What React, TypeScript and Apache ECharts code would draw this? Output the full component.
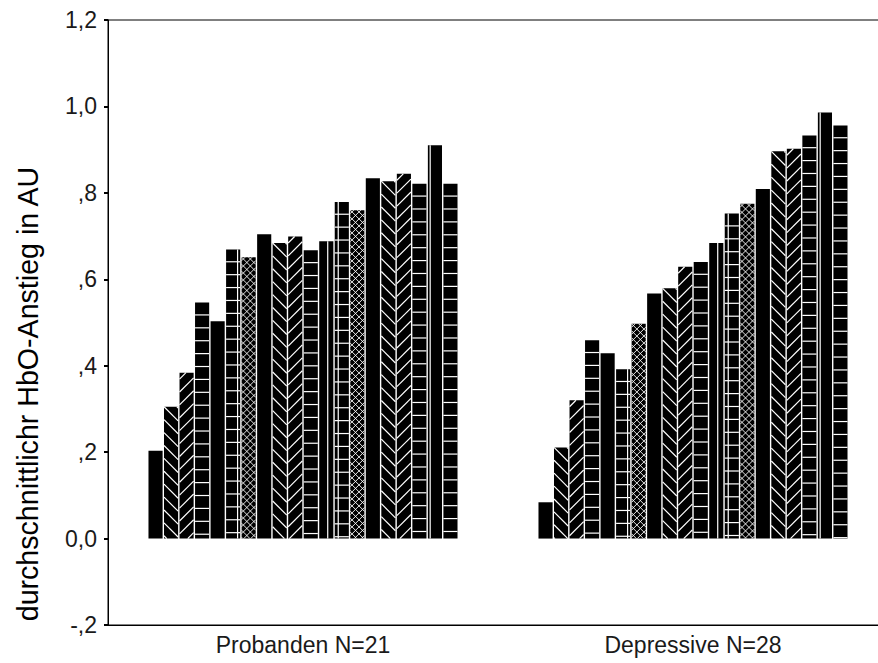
import React, { useEffect, useRef } from "react";
import * as echarts from "echarts";

// ---- data ----
const categories = ["Probanden N=21", "Depressive N=28"];
const probandenValues = [
  0.203, 0.305, 0.384, 0.546, 0.503, 0.669, 0.651, 0.704, 0.684, 0.699,
  0.667, 0.688, 0.779, 0.760, 0.834, 0.827, 0.844, 0.821, 0.910, 0.821,
];
const depressiveValues = [
  0.084, 0.211, 0.320, 0.459, 0.429, 0.392, 0.497, 0.567, 0.579, 0.629,
  0.640, 0.684, 0.752, 0.775, 0.809, 0.896, 0.902, 0.933, 0.986, 0.956,
];
const yTickLabels = ["-,2", "0,0", ",2", ",4", ",6", ",8", "1,0", "1,2"];
const yAxisTitle = "durchschnittlichr HbO-Anstieg in AU";

// ---- styles (fill pattern of each bar series) ----
const seriesPatterns = [
  "solid", "diagDown", "diagUp", "hlines", "solid", "grid", "cross",
  "solid", "diagDown", "diagUp", "hlines", "vline", "grid", "cross",
  "solid", "diagDown", "diagUp", "hlines", "vline", "hlines",
];
const vlineOffsets: Record<number, number> = { 5: 11.5, 11: 8.5, 12: 3.5, 18: 2.3 };

const FONT = "'Liberation Sans', Arial, sans-serif";
const TILE = 12.9;
const BAR_AREA = 0.796;
const BAR_GAP = 1.4;
const WHITE_LINE = { stroke: "#fff", lineWidth: 1.2 };
const WHITE_THIN = { stroke: "#fff", lineWidth: 0.9 };

function seg(x1: number, y1: number, x2: number, y2: number, style: any = WHITE_LINE) {
  return { type: "line", shape: { x1, y1, x2, y2 }, style, silent: true };
}

function hLines(x0: number, y0: number, w: number, h: number, out: any[]) {
  for (let y = y0 + TILE - 0.6; y < y0 + h - 0.5; y += TILE) out.push(seg(x0, y, x0 + w, y));
}
function diagDown(x0: number, y0: number, w: number, h: number, step: number, out: any[], style: any = WHITE_LINE) {
  // y - y0 = (x - x0) + c
  for (let c = -Math.ceil(w / step) * step; c < h; c += step) {
    const lo = Math.max(0, -c);
    const hi = Math.min(w, h - c);
    if (hi > lo) out.push(seg(x0 + lo, y0 + lo + c, x0 + hi, y0 + hi + c, style));
  }
}
function diagUp(x0: number, y0: number, w: number, h: number, step: number, out: any[], style: any = WHITE_LINE) {
  // y - y0 = -(x - x0) + c
  for (let c = step * 0.5; c < h + w; c += step) {
    const lo = Math.max(0, c - h);
    const hi = Math.min(w, c);
    if (hi > lo) out.push(seg(x0 + lo, y0 + c - lo, x0 + hi, y0 + c - hi, style));
  }
}

export default function App() {
  const ref = useRef<HTMLDivElement>(null);
  useEffect(() => {
    if (!ref.current) return;
    const chart = echarts.init(ref.current, null, { renderer: "svg" });
    const nSeries = seriesPatterns.length;
    const data: number[][] = [];
    probandenValues.forEach((v, i) => data.push([0, i, v]));
    depressiveValues.forEach((v, i) => data.push([1, i, v]));

    const renderItem = (params: any, api: any) => {
      const cat = api.value(0);
      const s = api.value(1);
      const v = api.value(2);
      const topPt = api.coord([cat, v]);
      const basePt = api.coord([cat, 0]);
      const band = api.size([1, 0])[0];
      const pitch = (band * BAR_AREA) / nSeries;
      const w = pitch - BAR_GAP;
      const span = nSeries * pitch - BAR_GAP;
      const x0 = topPt[0] - span / 2 + s * pitch;
      const y0 = Math.min(topPt[1], basePt[1]);
      const h = Math.abs(basePt[1] - topPt[1]);
      const children: any[] = [
        { type: "rect", shape: { x: x0, y: y0, width: w, height: h }, style: { fill: "#000" } },
      ];
      const p = seriesPatterns[s];
      if (p === "hlines") hLines(x0, y0, w, h, children);
      if (p === "grid") {
        hLines(x0, y0, w, h, children);
        const d = vlineOffsets[s] ?? 4;
        children.push(seg(x0 + d, y0, x0 + d, y0 + h));
      }
      if (p === "vline") {
        const d = vlineOffsets[s] ?? 4;
        children.push(seg(x0 + d, y0, x0 + d, y0 + h));
      }
      if (p === "diagDown") diagDown(x0, y0, w, h, TILE, children);
      if (p === "diagUp") diagUp(x0, y0, w, h, TILE, children);
      if (p === "cross") {
        diagDown(x0, y0, w, h, 7, children, WHITE_THIN);
        diagUp(x0, y0, w, h, 7, children, WHITE_THIN);
      }
      return { type: "group", children };
    };

    chart.setOption({
      animation: false,
      backgroundColor: "#fff",
      grid: {
        left: 108,
        right: -10,
        top: 20,
        bottom: 38,
        outerBoundsMode: "none",
        containLabel: false,
        show: true,
        borderColor: "#000",
        borderWidth: 1,
        backgroundColor: "transparent",
      },
      xAxis: {
        type: "category",
        data: categories,
        boundaryGap: true,
        axisLine: { onZero: false, lineStyle: { color: "#000", width: 1 } },
        axisTick: { alignWithLabel: true, length: 3, lineStyle: { color: "#000", width: 3 } },
        axisLabel: { color: "#1a1a1a", fontFamily: FONT, fontSize: 23, margin: 8 },
        splitLine: { show: false },
      },
      yAxis: {
        type: "value",
        min: -0.2,
        max: 1.2,
        interval: 0.2,
        axisLine: { show: true, lineStyle: { color: "#000", width: 1 } },
        axisTick: { show: true, length: 4, lineStyle: { color: "#000", width: 2 } },
        axisLabel: {
          color: "#1a1a1a",
          fontFamily: FONT,
          fontSize: 23,
          margin: 11,
          formatter: (val: number) => yTickLabels[Math.round((val + 0.2) / 0.2)] ?? "",
        },
        splitLine: { show: false },
      },
      graphic: [
        {
          type: "text",
          x: 28,
          y: 394,
          rotation: Math.PI / 2,
          style: {
            text: yAxisTitle,
            font: `28.6px ${FONT}`,
            fill: "#000",
            textAlign: "center",
            textVerticalAlign: "middle",
          },
        },
      ],
      series: [
        {
          type: "custom",
          renderItem,
          data,
          encode: { x: 0, y: 2 },
          clip: false,
        },
      ],
    });
    return () => chart.dispose();
  }, []);
  return (
    <div
      ref={ref}
      style={{ position: "absolute", left: 0, top: 0, width: 878, height: 663, background: "#fff" }}
    />
  );
}
